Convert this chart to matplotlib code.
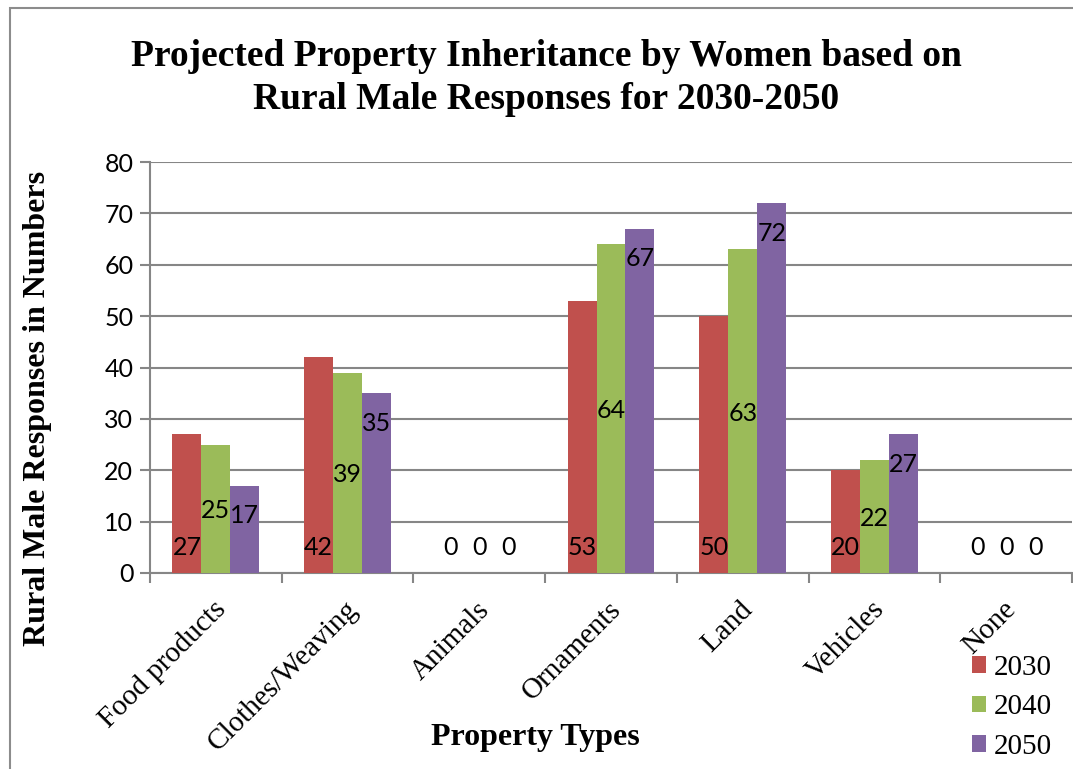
import matplotlib.pyplot as plt
from matplotlib.patches import Rectangle
from matplotlib.transforms import ScaledTranslation
import numpy as np

# data
categories = ["Food products", "Clothes/Weaving", "Animals", "Ornaments",
              "Land", "Vehicles", "None"]
years = ["2030", "2040", "2050"]
vals_2030 = [27, 42, 0, 53, 50, 20, 0]
vals_2040 = [25, 39, 0, 64, 63, 22, 0]
vals_2050 = [17, 35, 0, 67, 72, 27, 0]
colors = ["#C0504D", "#9BBB59", "#8064A2"]

W, H = 1073, 769
fig = plt.figure(figsize=(W / 100, H / 100), dpi=100)

# chart-area border (cut off at right/bottom like the reference)
fig.patches.append(Rectangle((10 / W, -0.1), 1.2, 1 - 8 / H + 0.1,
                             transform=fig.transFigure, fill=False,
                             edgecolor="#8c8c8c", linewidth=1.5))

ax = fig.add_axes([150 / W, 1 - 573 / H, (1072 - 150) / W, (573 - 162) / H])

serif = "Liberation Serif"
sans = "Lato"
grid_c = "#868686"
num_size = 18

x = np.arange(len(categories))
w = 0.22
series = [vals_2030, vals_2040, vals_2050]
for k, (vals, c, yr) in enumerate(zip(series, colors, years)):
    xs = x + (k - 1) * w
    ax.bar(xs, vals, width=w, color=c, label=yr, zorder=3)
    for xi, v in zip(xs, vals):
        if v == 0 or k == 0:
            # inside base
            ax.annotate(str(v), (xi, 0), xytext=(0, 13), textcoords="offset points",
                        ha="center", va="baseline", fontsize=num_size, family=sans, zorder=4)
        elif k == 1:
            # centre
            ax.text(xi, v / 2, str(v), ha="center", va="center_baseline",
                    fontsize=num_size, family=sans, zorder=4)
        else:
            # inside end
            ax.annotate(str(v), (xi, v), xytext=(0, -27), textcoords="offset points",
                        ha="center", va="baseline", fontsize=num_size, family=sans, zorder=4)

ax.set_xlim(-0.5, len(categories) - 0.5)
ax.set_ylim(0, 80)
ax.set_yticks(range(0, 81, 10))
ax.yaxis.grid(True, color=grid_c, linewidth=1.5, zorder=0)

# category boundaries as major ticks, names as minor ticks
ax.set_xticks(np.arange(-0.5, len(categories), 1.0))
ax.set_xticklabels([])
ax.set_xticks(x, minor=True)
ax.set_xticklabels(categories, minor=True, rotation=45, ha="right",
                   rotation_mode="anchor", family=serif, fontsize=21)
ax.tick_params(axis="x", which="minor", length=0, pad=17)
ax.tick_params(axis="x", which="major", length=7, width=1.5, color=grid_c)
ax.tick_params(axis="y", length=7, width=1.5, color=grid_c, pad=5)
shift = ScaledTranslation(-3 / 100, 0, fig.dpi_scale_trans)
for lab in ax.get_xticklabels(minor=True):
    lab.set_transform(lab.get_transform() + shift)
for lab in ax.get_yticklabels():
    lab.set_family(sans)
    lab.set_fontsize(num_size)

for s in ["top", "right"]:
    ax.spines[s].set_visible(False)
for s in ["left", "bottom"]:
    ax.spines[s].set_color(grid_c)
    ax.spines[s].set_linewidth(1.5)

fig.text(546 / W, 1 - 78 / H,
         "Projected Property Inheritance by Women based on\nRural Male Responses for 2030-2050",
         ha="center", va="center", family=serif, fontweight="bold", fontsize=27,
         linespacing=1.3)
fig.text(38 / W, 1 - 408 / H, "Rural Male Responses in Numbers", rotation=90,
         ha="center", va="center", family=serif, fontweight="bold", fontsize=23)
fig.text(535 / W, 1 - 738 / H, "Property Types", ha="center", va="center",
         family=serif, fontweight="bold", fontsize=23)

leg = ax.legend(loc="upper left", bbox_to_anchor=(966 / W, 1 - 649 / H),
                bbox_transform=fig.transFigure, frameon=False,
                prop={"family": serif, "size": 21}, handlelength=0.5,
                handleheight=0.5, handletextpad=0.25, labelspacing=0.46,
                borderpad=0.2, borderaxespad=0)

fig.savefig("out.png", dpi=100)
